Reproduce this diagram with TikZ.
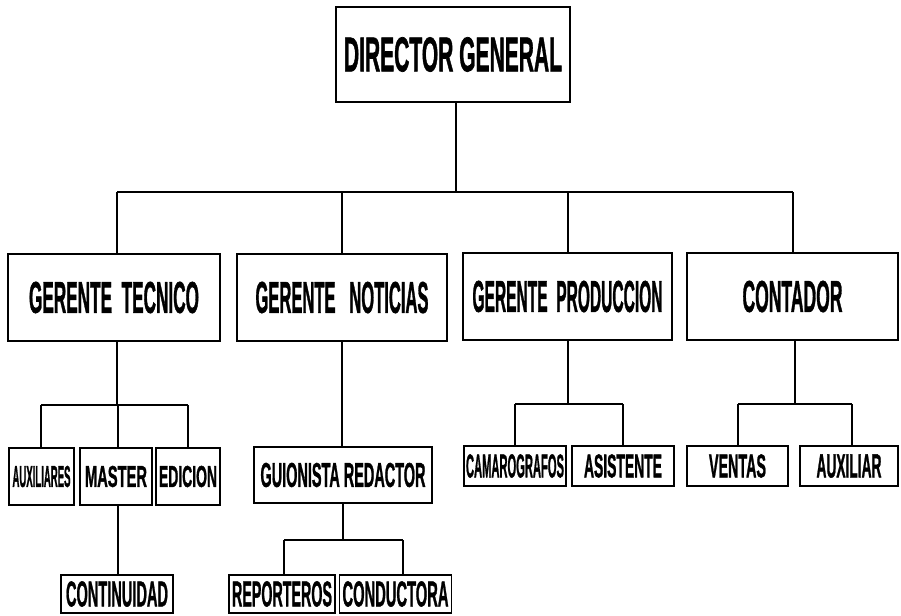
\documentclass[tikz,border=0pt]{standalone}
\usepackage{fontspec}
\usepackage{graphicx}
\setmainfont{Liberation Sans}
\newfontfamily\heavyfont{Liberation Sans Bold}[FakeBold=1.6]
\newcommand{\fitlbl}[3]{\resizebox{#1pt}{#2pt}{\heavyfont #3}}
\tikzset{
  box/.style={draw, line width=1.8pt, inner sep=0pt, rectangle},
  conn/.style={line width=1.7pt},
}
\begin{document}
\begin{tikzpicture}[x=1pt,y=-1pt]
\fill[white] (0,0) rectangle (901,615);
\useasboundingbox (0,0) rectangle (901,615);
% top
\node[box, minimum width=234pt, minimum height=95pt] (dir) at (453,54.5) {\fitlbl{218}{34}{DIRECTOR GENERAL}};
% level 2
\node[box, minimum width=212pt, minimum height=87pt] (gt) at (114,297.5) {\fitlbl{170}{31}{GERENTE\ \ TECNICO}};
\node[box, minimum width=210pt, minimum height=87pt] (gn) at (342,297.5) {\fitlbl{173}{31}{GERENTE\ \ \ NOTICIAS}};
\node[box, minimum width=209pt, minimum height=87pt] (gp) at (567.5,296.5) {\fitlbl{190}{31}{GERENTE\ \ PRODUCCION}};
\node[box, minimum width=211pt, minimum height=87pt] (ct) at (792.5,296.5) {\fitlbl{100}{31}{CONTADOR}};
% level 3
\node[box, minimum width=65pt, minimum height=57pt] (aux) at (41.5,476.5) {\fitlbl{58}{21}{AUXILIARES}};
\node[box, minimum width=72pt, minimum height=57pt] (mas) at (116,476.5) {\fitlbl{62}{21}{MASTER}};
\node[box, minimum width=64pt, minimum height=57pt] (edi) at (188,476.5) {\fitlbl{58}{21}{EDICION}};
\node[box, minimum width=178pt, minimum height=56pt] (gui) at (343,475) {\fitlbl{165}{24}{GUIONISTA REDACTOR}};
\node[box, minimum width=102pt, minimum height=40pt] (cam) at (515,466) {\fitlbl{98}{23}{CAMAROGRAFOS}};
\node[box, minimum width=102pt, minimum height=40pt] (asi) at (623,466) {\fitlbl{78}{23}{ASISTENTE}};
\node[box, minimum width=101pt, minimum height=40pt] (ven) at (737.5,466) {\fitlbl{57}{23}{VENTAS}};
\node[box, minimum width=98pt, minimum height=40pt] (auxl) at (849,466) {\fitlbl{65}{23}{AUXILIAR}};
% level 4
\node[box, minimum width=112pt, minimum height=38pt] (cont) at (117,594) {\fitlbl{102}{25}{CONTINUIDAD}};
\node[box, minimum width=106pt, minimum height=38pt] (rep) at (282,594) {\fitlbl{100}{25}{REPORTEROS}};
\node[box, minimum width=112pt, minimum height=38pt] (cond) at (395.5,594) {\fitlbl{106}{25}{CONDUCTORA}};
% connectors: top level
\coordinate (b0) at (456,192);
\coordinate (bL) at (117,192);
\coordinate (b2) at (342,192);
\coordinate (b3) at (568,192);
\coordinate (bR) at (793,192);
\draw[conn] (b0 |- dir.south) -- (b0);
\draw[conn] (bL) -- (bR);
\draw[conn] (bL) -- (bL |- gt.north);
\draw[conn] (b2) -- (b2 |- gn.north);
\draw[conn] (b3) -- (b3 |- gp.north);
\draw[conn] (bR) -- (bR |- ct.north);
% gerente tecnico subtree
\coordinate (t0) at (117,405);
\coordinate (t1) at (41,405);
\coordinate (t2) at (188,405);
\coordinate (tm) at (118,405);
\draw[conn] (t0 |- gt.south) -- (t0);
\draw[conn] (t1) -- (t2);
\draw[conn] (t1) -- (t1 |- aux.north);
\draw[conn] (tm) -- (tm |- mas.north);
\draw[conn] (t2) -- (t2 |- edi.north);
\draw[conn] (tm |- mas.south) -- (tm |- cont.north);
% gerente noticias subtree
\coordinate (n0) at (342,447);
\draw[conn] (n0 |- gn.south) -- (n0 |- gui.north);
\coordinate (g0) at (343,540);
\coordinate (g1) at (284,540);
\coordinate (g2) at (403,540);
\draw[conn] (g0 |- gui.south) -- (g0);
\draw[conn] (g1) -- (g2);
\draw[conn] (g1) -- (g1 |- rep.north);
\draw[conn] (g2) -- (g2 |- cond.north);
% gerente produccion subtree
\coordinate (p0) at (568,404);
\coordinate (p1) at (515,404);
\coordinate (p2) at (623,404);
\draw[conn] (p0 |- gp.south) -- (p0);
\draw[conn] (p1) -- (p2);
\draw[conn] (p1) -- (p1 |- cam.north);
\draw[conn] (p2) -- (p2 |- asi.north);
% contador subtree
\coordinate (c0) at (795,404);
\coordinate (c1) at (738,404);
\coordinate (c2) at (852,404);
\draw[conn] (c0 |- ct.south) -- (c0);
\draw[conn] (c1) -- (c2);
\draw[conn] (c1) -- (c1 |- ven.north);
\draw[conn] (c2) -- (c2 |- auxl.north);
\end{tikzpicture}
\end{document}
